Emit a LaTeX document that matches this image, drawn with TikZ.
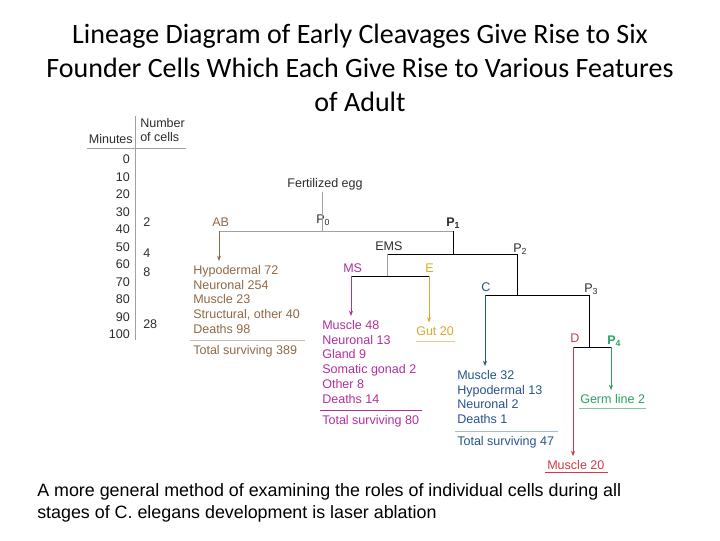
\documentclass[tikz,border=0pt]{standalone}
\usepackage{fontspec}
\setmainfont{Liberation Sans}
\newfontfamily\titlefont{Carlito}
\usetikzlibrary{arrows.meta,calc,positioning}
\definecolor{txtgrey}{RGB}{45,45,45}
\definecolor{linegrey}{RGB}{160,160,160}
\definecolor{abbrown}{RGB}{145,105,72}
\definecolor{msmagenta}{RGB}{178,48,158}
\definecolor{egold}{RGB}{218,168,48}
\definecolor{cblue}{RGB}{38,84,140}
\definecolor{dred}{RGB}{212,56,72}
\definecolor{pgreen}{RGB}{42,162,96}
\tikzset{
    lbl/.style = {inner sep=0pt, font=\fontsize{9.4}{11.1}\selectfont, text=txtgrey},
    cell/.style = {lbl, anchor=base west},
    tick/.style = {lbl, anchor=base east},
    list/.style = {lbl, anchor=north west, align=left},
    tree/.style = {draw=black, line width=0.6pt},
    stem/.style = {draw=linegrey, line width=0.6pt},
    arrow/.style = {draw, -{Stealth[length=4pt,width=3pt]}, line width=0.5pt, shorten >=3pt},
    rule/.style = {draw, line width=0.5pt}
}

\begin{document}
\begin{tikzpicture}[x=0.75pt, y=-0.75pt]
        \useasboundingbox[fill=white] (0,0) rectangle (720,540);
        \node [anchor=north, align=center, font=\titlefont\fontsize{21}{25.5}\selectfont] (title) at (360,19)
            {Lineage Diagram of Early Cleavages Give Rise to Six\\Founder Cells Which Each Give Rise to Various Features\\of Adult};
        % time table
        \node [tick] (minutes) at (133,143.5) {Minutes};
        \node [cell] (number) at (140,127.5) {Number};
        \node [cell] (ofcells) at (140,141.5) {of cells};
        \foreach \m [count=\i from 0] in {0,10,...,100}
            \node [tick] (min\m) at (130,163.5+17.5*\i) {\m};
        \coordinate (tabtop) at (135,116);
        \coordinate (tabbot) at (135,340);
        \draw [stem] (tabtop) -- (tabbot);
        \coordinate (hleft) at (87,148);
        \coordinate (hright) at (186,148);
        \draw [stem] (hleft) -- (hright);
        \node [cell] (n2) at (143,226.5) {2};
        \node [cell] (n4) at (143,257.5) {4};
        \node [cell] (n8) at (143,276.5) {8};
        \node [cell] (n28) at (143,328.5) {28};
        % lineage
        \node [lbl, anchor=base] (egg) at (325,187.5) {Fertilized egg};
        \coordinate (p0) at (322,231);
        \node [cell] (p0lbl) at (316,223) {P\textsubscript{0}};
        \draw [stem, shorten <=1.5pt] (egg.south -| p0) -- (p0);
        \coordinate (ab) at (219,231);
        \coordinate (p1) at (453,231);
        \draw [stem] (ab) -- (p1);
        \node [cell, text=abbrown] (ablbl) at (212,226.5) {AB};
        \node [cell, font=\fontsize{9.4}{11.1}\selectfont\bfseries] (p1lbl) at (446,226.5) {P\textsubscript{1}};
        \coordinate (ems) at (387,254);
        \coordinate (p2) at (517,254);
        \draw [tree] (p1) -- (p1 |- ems);
        \draw [tree] (ems) -- (p2);
        \node [cell] (emslbl) at (375,250.5) {EMS};
        \node [cell] (p2lbl) at (513,252.5) {P\textsubscript{2}};
        \coordinate (ms) at (351,276);
        \coordinate (e) at (429,276);
        \draw [stem] (ems) -- (ems |- ms);
        \draw [tree] (ms) -- (e);
        \node [cell, text=msmagenta] (mslbl) at (343,272.5) {MS};
        \node [cell, text=egold] (elbl) at (425,272.5) {E};
        \coordinate (c) at (485,295);
        \coordinate (p3) at (589,295);
        \draw [tree] (p2) -- (p2 |- c);
        \draw [tree] (c) -- (p3);
        \node [cell, text=cblue] (clbl) at (481,291.5) {C};
        \node [cell] (p3lbl) at (584,292.5) {P\textsubscript{3}};
        \coordinate (d) at (573,347);
        \coordinate (p4) at (611,347);
        \draw [tree] (p3) -- (p3 |- d);
        \draw [tree] (d) -- (p4);
        \node [cell, text=dred] (dlbl) at (570,342.5) {D};
        \node [cell, text=pgreen, font=\fontsize{9.4}{11.1}\selectfont\bfseries] (p4lbl) at (607,344.5) {P\textsubscript{4}};
        % fates
        \node [list, text=abbrown] (ablist) at (193,265) {Hypodermal 72\\Neuronal 254\\Muscle 23\\Structural, other 40\\Deaths 98};
        \node [cell, text=abbrown] (abtotal) at (193,354.5) {Total surviving 389};
        \draw [arrow, abbrown] (ab) -- (ab |- ablist.north);
        \coordinate (absep) at (190,340);
        \draw [rule, abbrown!45] (absep) -- ++(115,0);
        \node [list, text=msmagenta] (mslist) at (322,320) {Muscle 48\\Neuronal 13\\Gland 9\\Somatic gonad 2\\Other 8\\Deaths 14};
        \node [cell, text=msmagenta] (mstotal) at (322,424.5) {Total surviving 80};
        \draw [arrow, msmagenta] (ms) -- (ms |- mslist.north);
        \coordinate (mssep) at (320,410);
        \draw [rule, msmagenta] (mssep) -- ++(102,0);
        \node [cell, text=egold] (gut) at (416,335.5) {Gut 20};
        \draw [arrow, egold] (e) -- (e |- gut.north);
        \coordinate (gutsep) at (416,341.5);
        \draw [rule, egold!60] (gutsep) -- ++(39,0);
        \node [list, text=cblue] (clist) at (457,370) {Muscle 32\\Hypodermal 13\\Neuronal 2\\Deaths 1};
        \node [cell, text=cblue] (ctotal) at (457,445.5) {Total surviving 47};
        \draw [arrow, cblue] (c) -- (c |- clist.north);
        \coordinate (csep) at (455,431);
        \draw [rule, cblue!40] (csep) -- ++(103,0);
        \node [cell, text=pgreen] (germ) at (580,403.5) {Germ line 2};
        \draw [arrow, pgreen] (p4) -- (p4 |- germ.north);
        \coordinate (germsep) at (579,408.5);
        \draw [rule, pgreen!60] (germsep) -- ++(67,0);
        \node [cell, text=dred] (dmuscle) at (547,469.5) {Muscle 20};
        \draw [arrow, dred] (d) -- (d |- dmuscle.north);
        \coordinate (dsep) at (545,472);
        \draw [rule, dred] (dsep) -- ++(63,0);
        % caption
        \node [anchor=north west, inner sep=0pt, align=left, font=\fontsize{13.4}{16.5}\selectfont] (caption) at (37,483)
            {A more general method of examining the roles of individual cells during all\\stages of C. elegans development is laser ablation};
    \end{tikzpicture}
\end{document}
